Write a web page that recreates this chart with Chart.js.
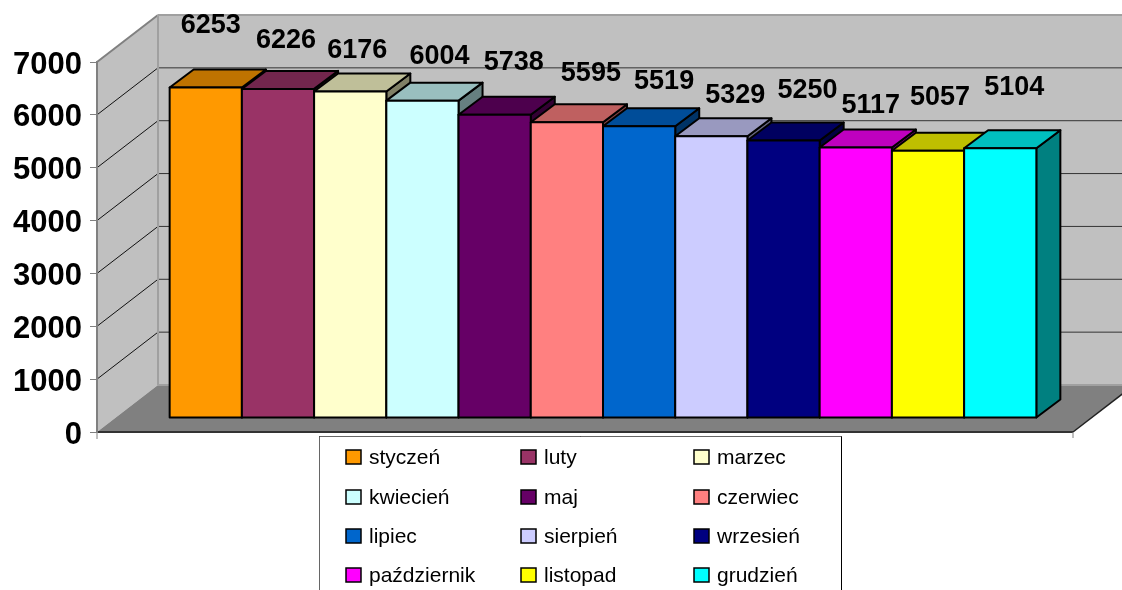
<!DOCTYPE html>
<html><head><meta charset="utf-8">
<style>html,body{margin:0;padding:0;background:#fff}canvas{display:block}</style>
<script src="https://cdn.jsdelivr.net/npm/chart.js@4"></script>
</head><body><canvas id="c" width="1122" height="590"></canvas>
<script>
const months=['styczeń','luty','marzec','kwiecień','maj','czerwiec','lipiec','sierpień','wrzesień','październik','listopad','grudzień'];
const values=[6253,6226,6176,6004,5738,5595,5519,5329,5250,5117,5057,5104];
const colors=['#FF9900','#993366','#FFFFCC','#CCFFFF','#660066','#FF8080','#0066CC','#CCCCFF','#000080','#FF00FF','#FFFF00','#00FFFF'];
const labelShiftX=[5,8,7,17,19,24,25,24,24,15,12,14];
const labelShiftY=[-63,-49,-42,-45,-53,-50,-46,-42,-51,-43,-54,-62];
const FONT='"Liberation Sans", Arial, sans-serif';
const WALL={dx:61,dy:-47}, BAR={dx:24,dy:-18}, SHIFT={dx:18,dy:-14};
function shade(hex,f){const n=parseInt(hex.slice(1),16);
  return 'rgb('+[(n>>16)&255,(n>>8)&255,n&255].map(c=>Math.round(c*f)).join(',')+')';}
function poly(ctx,pts,fill,stroke,lw){ctx.beginPath();pts.forEach((p,i)=>i?ctx.lineTo(p[0],p[1]):ctx.moveTo(p[0],p[1]));ctx.closePath();
  if(fill){ctx.fillStyle=fill;ctx.fill();}
  if(stroke){ctx.strokeStyle=stroke;ctx.lineWidth=lw;ctx.stroke();}}
function line(ctx,x0,y0,x1,y1,c,lw){ctx.beginPath();ctx.moveTo(x0,y0);ctx.lineTo(x1,y1);ctx.strokeStyle=c;ctx.lineWidth=lw;ctx.stroke();}

const scene={id:'scene',
  beforeDraw(ch){const ctx=ch.ctx,a=ch.chartArea,y=ch.scales.y,W=ch.width;
    const L=a.left,R=a.right,T=a.top,B=a.bottom,dx=WALL.dx,dy=WALL.dy;
    ctx.save();
    poly(ctx,[[L+dx,T+dy],[R+dx,T+dy],[R+dx,B+dy],[L+dx,B+dy]],'#C0C0C0');
    poly(ctx,[[L,T],[L+dx,T+dy],[L+dx,B+dy],[L,B]],'#C0C0C0');
    poly(ctx,[[L,B],[R,B],[R+dx,B+dy],[L+dx,B+dy]],'#808080');
    y.ticks.forEach(t=>{if(t.value===0||t.value===7000)return;const p=y.getPixelForValue(t.value);
      line(ctx,L,p,L+dx,p+dy,'#111',1);
      line(ctx,L+dx,p+dy,W,p+dy,'#333',1);});
    line(ctx,L,T,L+dx,T+dy,'#808080',2);
    line(ctx,L+dx,T+dy,W,T+dy,'#A0A0A0',2);
    line(ctx,L+dx,T+dy,L+dx,B+dy,'#A0A0A0',2);
    line(ctx,L+dx,B+dy,W,B+dy,'#A0A0A0',2);
    line(ctx,L,B,R,B,'#333',2);
    line(ctx,R,B,R+dx,B+dy,'#222',1.5);
    line(ctx,R,B,R,B+6,'#808080',1);
    line(ctx,L,B,L,B+7,'#808080',1);
    ctx.restore();
  },
  beforeDatasetsDraw(ch){const ctx=ch.ctx;
    ctx.save();ctx.translate(SHIFT.dx,SHIFT.dy);
    values.forEach((v,i)=>{
      const el=ch.getDatasetMeta(i).data[0],c=colors[i];
      const l=el.x-el.width/2,r=el.x+el.width/2,t=el.y,b=el.base,dx=BAR.dx,dy=BAR.dy;
      ctx.save();ctx.lineJoin='round';
      poly(ctx,[[r,t],[r+dx,t+dy],[r+dx,b+dy],[r,b]],shade(c,.5),'#000',2);
      poly(ctx,[[l,t],[l+dx,t+dy],[r+dx,t+dy],[r,t]],shade(c,.75),'#000',2);
      el.draw(ctx);
      ctx.strokeStyle='#000';ctx.lineWidth=2;ctx.strokeRect(l,t,r-l,b-t);
      ctx.restore();
    });
    ctx.restore();
  },
  beforeDatasetDraw(){return false;},
  afterDraw(ch){const ctx=ch.ctx;
    ctx.save();
    ctx.textAlign='center';ctx.textBaseline='middle';ctx.fillStyle='#000';ctx.font='bold 27px '+FONT;
    values.forEach((v,i)=>{const el=ch.getDatasetMeta(i).data[0];
      ctx.fillText(String(v),el.x+SHIFT.dx+labelShiftX[i],el.y+SHIFT.dy+labelShiftY[i]+1);});
    const lx=319.5,ly=436.5,lw=522,lh=170;
    ctx.fillStyle='#fff';ctx.fillRect(lx,ly,lw,lh);
    ctx.strokeStyle='#000';ctx.lineWidth=1;ctx.strokeRect(lx,ly,lw,lh);
    line(ctx,lx,ly,lx+lw,ly,'#666',1);
    line(ctx,lx,ly,lx,ly+lh,'#666',1);
    const colX=[346,521,694],rowY=[457,497,536,575];
    ctx.textAlign='left';ctx.font='21px '+FONT;
    months.forEach((m,i)=>{const x=colX[i%3],yc=rowY[Math.floor(i/3)];
      ctx.fillStyle=colors[i];ctx.fillRect(x,yc-7,15,14);
      ctx.strokeStyle='#000';ctx.lineWidth=1.5;ctx.strokeRect(x,yc-7,15,14);
      ctx.fillStyle='#000';ctx.fillText(m,x+23,yc+1);});
    ctx.restore();
  }};

new Chart(document.getElementById('c'),{
  type:'bar',
  data:{labels:[''],datasets:months.map((m,i)=>({label:m,data:[values[i]],backgroundColor:colors[i],borderWidth:0}))},
  options:{responsive:false,animation:false,
    layout:{padding:{top:62,right:49,bottom:158,left:0}},
    datasets:{bar:{barPercentage:1,categoryPercentage:0.888}},
    plugins:{legend:{display:false},tooltip:{enabled:false},title:{display:false}},
    scales:{
      x:{display:false},
      y:{min:0,max:7000,
        afterFit(s){s.width=97;
          if(!s._shifted){s._shifted=true;const orig=s.drawLabels;
            s.drawLabels=function(ca){const c=this.ctx;c.save();c.translate(0,3);orig.call(this,ca);c.restore();};}},
        ticks:{stepSize:1000,padding:8,color:'#000',font:{family:FONT,size:31,weight:'bold'},callback:v=>String(v)},
        grid:{drawOnChartArea:false,drawTicks:true,tickLength:7,tickColor:'#808080'},
        border:{color:'#808080',width:2}}
    }},
  plugins:[scene]});
</script></body></html>
